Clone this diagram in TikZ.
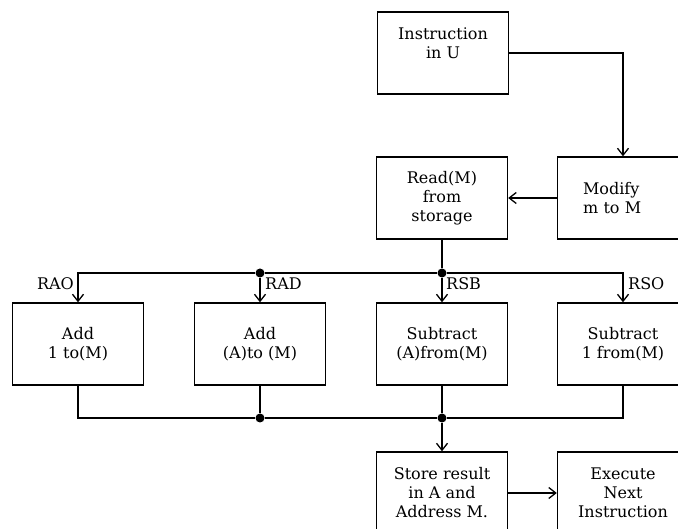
\documentclass[tikz,border=0pt]{standalone}
\usepackage{fontspec}
\setmainfont{DejaVu Serif}
\usetikzlibrary{arrows.meta}

\begin{document}
\begin{tikzpicture}
[x=1pt,y=-1pt,
  boxdecorate/.style={shape=rectangle,draw,line width=1.4pt,minimum width=131pt,
    minimum height=82pt,align=center,font=\fontsize{16}{19}\selectfont},
  boxleft/.style={boxdecorate,text width=80pt,align=left},
  linedecorate/.style={-{Straight Barb[length=7pt,width=11pt]},line width=1.3pt},
  busdecorate/.style={-,line width=1.3pt},
  dotdecorate/.style={shape=circle,fill,inner sep=0pt,minimum size=9pt},
  labeldecorate/.style={font=\fontsize{16}{19}\selectfont,inner sep=2pt}]
\useasboundingbox (0,0) rectangle (678,529);
%% boxes
\foreach \nodename/\x/\y/\boxstyle/\nodetext in {
  instr/443/53/boxdecorate/{Instruction\\in U\\~},
  read/442/198/boxdecorate/{Read(M)\\from\\storage},
  modify/623/198/boxleft/{Modify\\m to M},
  addone/78/344/boxdecorate/{Add\\1 to(M)},
  addm/260/344/boxdecorate/{Add\\(A)to (M)},
  subm/442/344/boxdecorate/{Subtract\\(A)from(M)},
  subone/623/344/boxdecorate/{Subtract\\1 from(M)},
  store/442/493/boxdecorate/{Store result\\in A and\\Address M.},
  exec/623/493/boxdecorate/{Execute\\Next\\Instruction}} {
  \node (\nodename) at (\x,\y) [\boxstyle] {\nodetext};
}
%% junction dots
\foreach \nodename/\x/\y in {dota/260/273, dotb/442/273, dotc/260/418, dotd/442/418} {
  \node (\nodename) at (\x,\y) [dotdecorate] {};
}
%% branch labels
\node (raolabel) at (76,284) [labeldecorate,anchor=east] {RAO};
\node (radlabel) at (263,284) [labeldecorate,anchor=west] {RAD};
\node (rsblabel) at (444,284) [labeldecorate,anchor=west] {RSB};
\node (rsolabel) at (626,284) [labeldecorate,anchor=west] {RSO};
%% connectors
\draw[linedecorate] (instr.east) -| (modify.north);
\draw[busdecorate] (read.south) -- (dotb);
\draw[busdecorate] (dota) -- (dotb);
\draw[linedecorate] (dota) -| (addone.north);
\draw[linedecorate] (dotb) -| (subone.north);
\draw[busdecorate] (addone.south) |- (dotc);
\draw[busdecorate] (subone.south) |- (dotd);
\path
\foreach \startnode/\endnode in {addm/dotc, subm/dotd, dotc/dotd} {
  (\startnode) edge[busdecorate] (\endnode)
};
\path
\foreach \startnode/\endnode in {modify/read, dota/addm, dotb/subm, dotd/store, store/exec} {
  (\startnode) edge[linedecorate] (\endnode)
};
\end{tikzpicture}
\end{document}
